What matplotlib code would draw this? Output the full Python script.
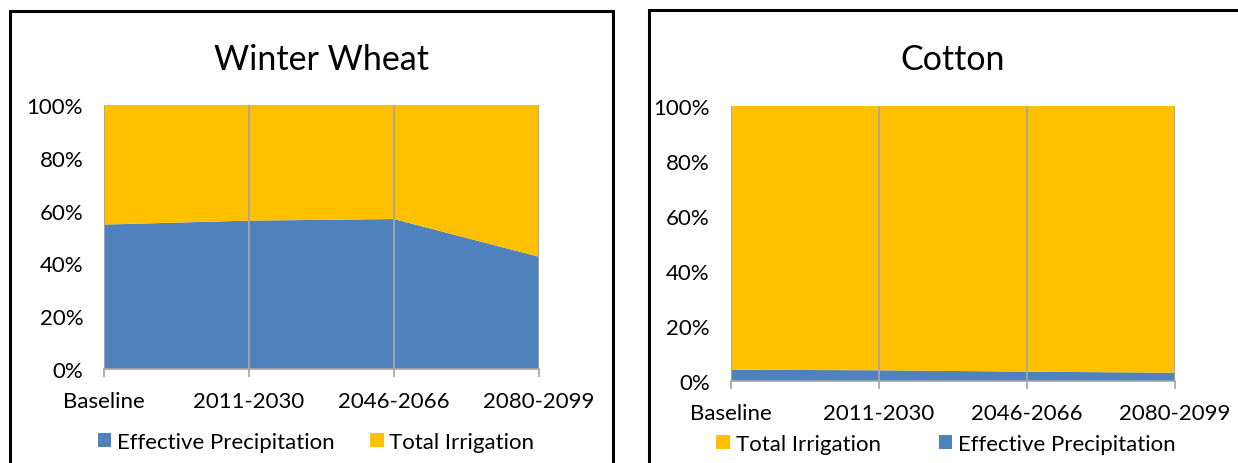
import matplotlib
matplotlib.use("Agg")
import matplotlib.pyplot as plt
from matplotlib.lines import Line2D
import numpy as np

plt.rcParams['font.family'] = ['Lato', 'DejaVu Sans']

periods = ['Baseline', '2011-2030', '2046-2066', '2080-2099']

# share of crop water use (%)
wheat_precip = [54.7, 56.2, 56.8, 42.5]
wheat_irrig = [45.3, 43.8, 43.2, 57.5]
cotton_precip = [4.1, 3.9, 3.4, 3.0]
cotton_irrig = [95.9, 96.1, 96.6, 97.0]

BLUE = '#4f81bd'
GOLD = '#ffc000'
GRID = '#a6a6a6'
FS = 16

W, H = 1238, 464
fig = plt.figure(figsize=(W / 100, H / 100), dpi=100)


def px_axes(x0, y0, x1, y1):
    # pixel box (top-left origin) -> figure fraction axes
    return fig.add_axes([x0 / W, 1 - y1 / H, (x1 - x0) / W, (y1 - y0) / H])


def style_area(ax, title, title_pad):
    ax.set_xlim(0, len(periods) - 1)
    ax.set_ylim(0, 100)
    ax.set_xticks(range(len(periods)))
    ax.set_xticklabels(periods, fontsize=FS)
    ax.set_yticks(np.arange(0, 101, 20))
    ax.set_yticklabels([f'{v}%' for v in range(0, 101, 20)], fontsize=FS)
    ax.tick_params(axis='x', length=6, width=1.2, color=GRID, pad=10)
    ax.tick_params(axis='y', length=0, pad=15)
    for s in ['left', 'right', 'top']:
        ax.spines[s].set_visible(False)
    ax.spines['bottom'].set_color(GRID)
    ax.spines['bottom'].set_linewidth(1.2)
    for xi in range(len(periods)):
        ax.axvline(xi, color=GRID, lw=1.3, zorder=3)
    ax.set_title(title, fontsize=24.5, pad=title_pad)


def add_legend(handles, labels, cx, cy, gap):
    fig.legend(handles, labels, loc='center', bbox_to_anchor=(cx / W, 1 - cy / H),
               ncol=2, frameon=False, fontsize=FS, handlelength=0.62,
               handleheight=0.62, handletextpad=0.25, columnspacing=gap)


# Winter wheat
ax1 = px_axes(104, 106, 539, 370)
ax1.stackplot(range(len(periods)), wheat_precip, wheat_irrig,
              colors=[BLUE, GOLD], labels=['Effective Precipitation', 'Total Irrigation'])
style_area(ax1, 'Winter Wheat', 26)
h1, l1 = ax1.get_legend_handles_labels()
add_legend(h1, l1, 316, 443, 1.6)

# Cotton
ax2 = px_axes(730.5, 107, 1175, 382)
ax2.stackplot(range(len(periods)), cotton_precip, cotton_irrig,
              colors=[BLUE, GOLD], labels=['Effective Precipitation', 'Total Irrigation'])
style_area(ax2, 'Cotton', 27)
h2, l2 = ax2.get_legend_handles_labels()
add_legend([h2[1], h2[0]], [l2[1], l2[0]], 946, 445, 2.6)


# chart frames
def frame(xs, ys):
    fig.add_artist(Line2D([x / W for x in xs], [1 - y / H for y in ys],
                          color='black', lw=2.2, solid_joinstyle='miter'))


frame([10, 10, 613, 613], [470, 12, 12, 470])
frame([649, 649, 1245], [470, 11, 11])

fig.savefig('out.png', dpi=100)
